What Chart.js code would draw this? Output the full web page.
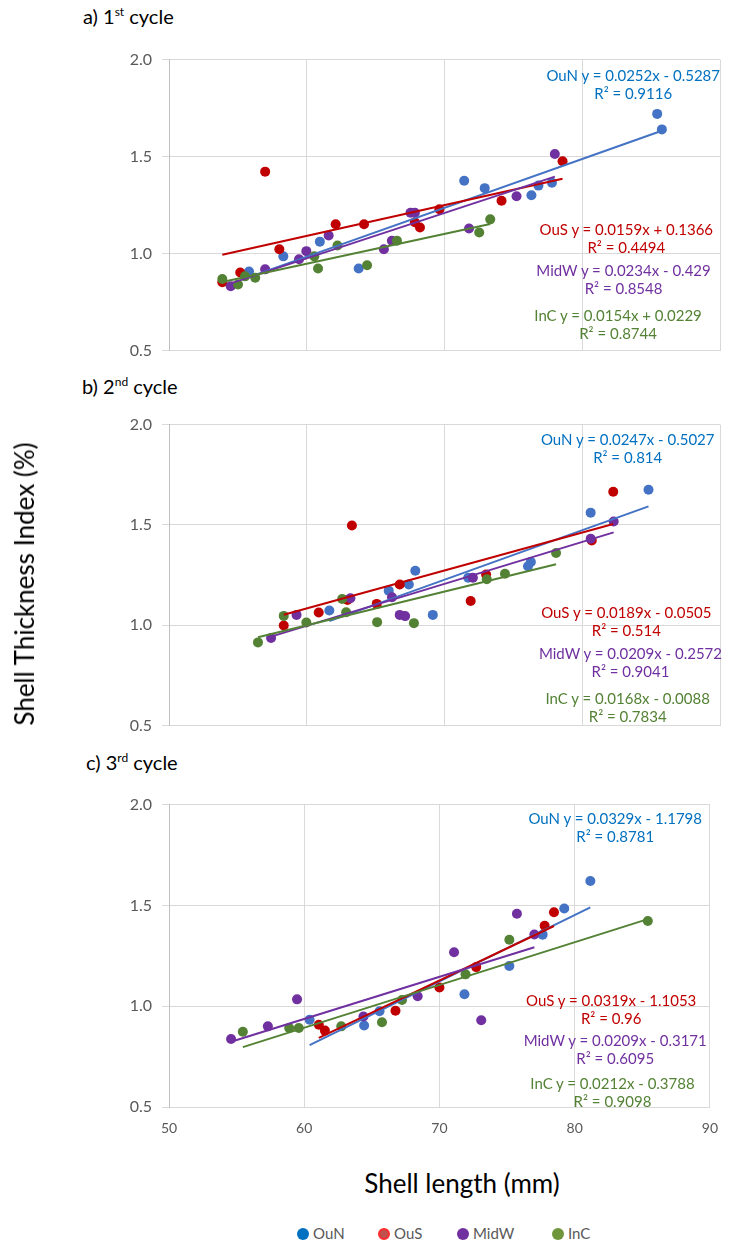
<!DOCTYPE html>
<html>
<head>
<meta charset="utf-8">
<script src="https://cdn.jsdelivr.net/npm/chart.js@4.4.1/dist/chart.umd.min.js"></script>
<style>
  body { margin: 0; background: #fff; font-family: Lato, "Open Sans", sans-serif; }
  #page { position: relative; width: 731px; height: 1245px; overflow: hidden; }
  canvas { position: absolute; left: 0; }
  .title { position: absolute; font-size: 20px; line-height: 24px; color: #000; white-space: nowrap; }
  .title sup { font-size: 12px; line-height: 0; }
  .eq { position: absolute; width: 240px; text-align: center; font-size: 15px; line-height: 18px; white-space: nowrap; }
  .axis-title { position: absolute; font-size: 26px; color: #000; white-space: nowrap; }
  .legend { position: absolute; font-size: 15px; line-height: 18px; color: #595959; white-space: nowrap; }
  .legend i { display: inline-block; width: 12px; height: 12px; border-radius: 50%; margin-right: 4px; vertical-align: -1px; box-sizing: border-box; }
</style>
</head>
<body>
<div id="page">
  <div class="title" style="left:83px; top:4px;">a) 1<sup>st</sup> cycle</div>
  <div class="title" style="left:82px; top:374px;">b) 2<sup>nd</sup> cycle</div>
  <div class="title" style="left:86px; top:750px;">c) 3<sup>rd</sup> cycle</div>

  <canvas id="cycle1" width="731" height="330" style="top:40px;"></canvas>
  <canvas id="cycle2" width="731" height="340" style="top:405px;"></canvas>
  <canvas id="cycle3" width="731" height="360" style="top:785px;"></canvas>

  <div class="axis-title" style="left:24px; top:584px; transform: translate(-50%, -50%) rotate(-90deg);">Shell Thickness Index (%)</div>
  <div class="axis-title" style="left:462px; top:1183px; transform: translate(-50%, -50%);">Shell length (mm)</div>
</div>

<script>
const sites = ['OuN', 'OuS', 'MidW', 'InC'];
const markerColors = ['#4472C4', '#C00000', '#7030A0', '#548235'];
const labelColors = ['#0070C0', '#C00000', '#7030A0', '#548235'];

// 1st cycle: shell length (mm) / thickness index (%)
const c1OuNx = [85.44, 85.78, 71.43, 72.92, 76.31, 76.82, 77.80, 60.95, 58.30, 55.81, 63.77];
const c1OuNy = [1.72, 1.64, 1.375, 1.337, 1.30, 1.35, 1.365, 1.061, 0.985, 0.907, 0.922];
const c1OuSx = [56.98, 78.57, 74.14, 68.22, 67.85, 69.63, 64.16, 62.10, 58.01, 55.17, 53.87];
const c1OuSy = [1.422, 1.476, 1.272, 1.134, 1.161, 1.228, 1.151, 1.151, 1.022, 0.902, 0.852];
const c1MidWx = [78.01, 75.23, 71.78, 67.53, 67.85, 65.60, 66.18, 61.59, 59.97, 59.44, 56.98, 54.48];
const c1MidWy = [1.513, 1.295, 1.129, 1.21, 1.21, 1.022, 1.066, 1.093, 1.012, 0.970, 0.918, 0.831];
const c1InCx = [73.32, 72.52, 66.55, 62.23, 64.38, 60.82, 60.55, 56.26, 55.52, 55.01, 53.87];
const c1InCy = [1.176, 1.108, 1.066, 1.041, 0.939, 0.922, 0.985, 0.875, 0.882, 0.840, 0.868];
const c1Slope = [0.0252, 0.0159, 0.0234, 0.0154];
const c1Icpt = [-0.5287, 0.1366, -0.429, 0.0229];
const c1R2 = [0.9116, 0.4494, 0.8548, 0.8744];

// 2nd cycle
const c2OuNx = [84.81, 80.61, 76.27, 76.06, 67.88, 67.41, 65.95, 61.64, 69.15, 71.72];
const c2OuNy = [1.675, 1.561, 1.315, 1.294, 1.271, 1.203, 1.172, 1.073, 1.051, 1.236];
const c2OuSx = [82.25, 80.69, 63.28, 66.75, 73.02, 71.90, 65.08, 62.96, 60.87, 58.33];
const c2OuSy = [1.665, 1.422, 1.497, 1.203, 1.252, 1.120, 1.106, 1.125, 1.063, 0.998];
const c2MidWx = [82.28, 80.61, 72.06, 66.75, 67.14, 66.19, 63.17, 59.26, 57.41];
const c2MidWy = [1.517, 1.431, 1.236, 1.051, 1.045, 1.139, 1.134, 1.051, 0.936];
const c2InCx = [78.10, 74.39, 73.07, 67.78, 65.11, 62.86, 62.57, 59.97, 58.33, 56.46];
const c2InCy = [1.36, 1.256, 1.229, 1.01, 1.015, 1.064, 1.130, 1.013, 1.046, 0.914];
const c2Slope = [0.0247, 0.0189, 0.0209, 0.0168];
const c2Icpt = [-0.5027, -0.0505, -0.2572, -0.0088];
const c2R2 = [0.814, 0.514, 0.9041, 0.7834];

// 3rd cycle
const c3OuNx = [81.16, 79.23, 77.63, 75.17, 71.85, 65.57, 64.43, 60.40];
const c3OuNy = [1.621, 1.485, 1.355, 1.199, 1.059, 0.975, 0.904, 0.933];
const c3OuSx = [78.47, 77.78, 72.72, 70.00, 66.75, 61.53, 61.08];
const c3OuSy = [1.466, 1.399, 1.194, 1.093, 0.977, 0.879, 0.908];
const c3MidWx = [75.73, 77.02, 71.08, 73.09, 68.39, 64.38, 59.47, 57.31, 54.59];
const c3MidWy = [1.459, 1.356, 1.268, 0.930, 1.049, 0.949, 1.034, 0.900, 0.837];
const c3InCx = [85.41, 75.17, 71.93, 67.23, 65.75, 62.74, 59.60, 58.89, 55.46];
const c3InCy = [1.423, 1.330, 1.158, 1.031, 0.920, 0.900, 0.892, 0.892, 0.873];
const c3Slope = [0.0329, 0.0319, 0.0209, 0.0212];
const c3Icpt = [-1.1798, -1.1053, -0.3171, -0.3788];
const c3R2 = [0.8781, 0.96, 0.6095, 0.9098];

const xTicks = [50, 60, 70, 80, 90];
const yTicks = [0.5, 1.0, 1.5, 2.0];

function zipPoints(xs, ys) {
    return xs.map((x, i) => ({ x: x, y: ys[i] }));
}

// linear trendline over the x range of the series
function trendPoints(xs, slope, icpt) {
    const lo = Math.min(...xs);
    const hi = Math.max(...xs);
    return [{ x: lo, y: slope * lo + icpt }, { x: hi, y: slope * hi + icpt }];
}

function equationText(slope, icpt) {
    return `y = ${slope}x ${icpt < 0 ? '-' : '+'} ${Math.abs(icpt)}`;
}

function buildPanel(id, xs, ys, slopes, icpts, opts) {
    const datasets = [];
    sites.forEach((name, i) => {
        datasets.push({
            label: name,
            data: zipPoints(xs[i], ys[i]),
            backgroundColor: markerColors[i],
            borderWidth: 0,
            pointRadius: 5,
            order: 10 - i
        });
    });
    sites.forEach((name, i) => {
        datasets.push({
            label: name + ' trend',
            data: trendPoints(xs[i], slopes[i], icpts[i]),
            showLine: true,
            borderColor: markerColors[i],
            borderWidth: 2,
            pointRadius: 0,
            order: 4 - i
        });
    });

    return new Chart(document.getElementById(id), {
        type: 'scatter',
        data: { datasets },
        options: {
            responsive: false,
            animation: false,
            devicePixelRatio: 1,
            layout: { padding: { top: opts.padTop, right: 11, bottom: 0, left: 0 } },
            plugins: { legend: { display: false }, tooltip: { enabled: false } },
            scales: {
                x: {
                    type: 'linear',
                    min: xTicks[0],
                    max: xTicks[xTicks.length - 1],
                    afterBuildTicks: s => { s.ticks = xTicks.map(v => ({ value: v })); },
                    afterFit: s => { s.height = opts.axisHeight; },
                    grid: { color: '#d9d9d9', drawTicks: false },
                    border: { color: '#d9d9d9' },
                    ticks: {
                        display: opts.showX,
                        padding: 13,
                        color: '#595959',
                        font: { family: 'Lato', size: 14 }
                    }
                },
                y: {
                    min: yTicks[0],
                    max: yTicks[yTicks.length - 1],
                    afterBuildTicks: s => { s.ticks = yTicks.map(v => ({ value: v })); },
                    afterFit: s => { s.width = 169; },
                    grid: { color: '#d9d9d9', tickLength: 7 },
                    border: { color: '#bfbfbf' },
                    ticks: {
                        padding: 10,
                        color: '#595959',
                        font: { family: 'Lato', size: 16 },
                        callback: v => v.toFixed(1)
                    }
                }
            }
        }
    });
}

const charts = [
    buildPanel('cycle1', [c1OuNx, c1OuSx, c1MidWx, c1InCx], [c1OuNy, c1OuSy, c1MidWy, c1InCy],
        c1Slope, c1Icpt, { padTop: 15, axisHeight: 17, showX: false }),
    buildPanel('cycle2', [c2OuNx, c2OuSx, c2MidWx, c2InCx], [c2OuNy, c2OuSy, c2MidWy, c2InCy],
        c2Slope, c2Icpt, { padTop: 18, axisHeight: 18, showX: false }),
    buildPanel('cycle3', [c3OuNx, c3OuSx, c3MidWx, c3InCx], [c3OuNy, c3OuSy, c3MidWy, c3InCy],
        c3Slope, c3Icpt, { padTop: 17, axisHeight: 38, showX: true })
];

// equation box anchors in axis units: [centre x, first line y]
const eqAnchors = [
    [[83.7, 1.923], [83.2, 1.124], [83.0, 0.915], [82.6, 0.684]],
    [[83.3, 1.929], [83.2, 1.066], [83.5, 0.861], [83.3, 0.637]],
    [[83.0, 1.935], [82.7, 1.031], [83.0, 0.832], [82.8, 0.620]]
];
const panelFits = [[c1Slope, c1Icpt, c1R2], [c2Slope, c2Icpt, c2R2], [c3Slope, c3Icpt, c3R2]];
const page = document.getElementById('page');
panelFits.forEach(([slopes, icpts, r2s], p) => {
    const chart = charts[p];
    const top0 = chart.canvas.offsetTop;
    sites.forEach((name, i) => {
        const cx = chart.scales.x.getPixelForValue(eqAnchors[p][i][0]);
        const cy = chart.scales.y.getPixelForValue(eqAnchors[p][i][1]) + top0;
        const box = document.createElement('div');
        box.className = 'eq';
        box.style.left = (cx - 120) + 'px';
        box.style.top = (cy - 9) + 'px';
        box.style.color = labelColors[i];
        box.innerHTML = `${name} ${equationText(slopes[i], icpts[i])}<br>R² = ${r2s[i]}`;
        page.appendChild(box);
    });
});

// legend row under the x axis title
const legendDots = ['#0070C0', '#C0504D', '#7030A0', '#70963C'];
const legendLeft = [297, 378, 457, 552];
sites.forEach((name, i) => {
    const item = document.createElement('div');
    item.className = 'legend';
    item.style.left = legendLeft[i] + 'px';
    item.style.top = '1224px';
    const ring = i === 1 ? 'border:2px solid #ff2b2b;' : '';
    item.innerHTML = `<i style="background:${legendDots[i]};${ring}"></i>${name}`;
    page.appendChild(item);
});
</script>
</body>
</html>
